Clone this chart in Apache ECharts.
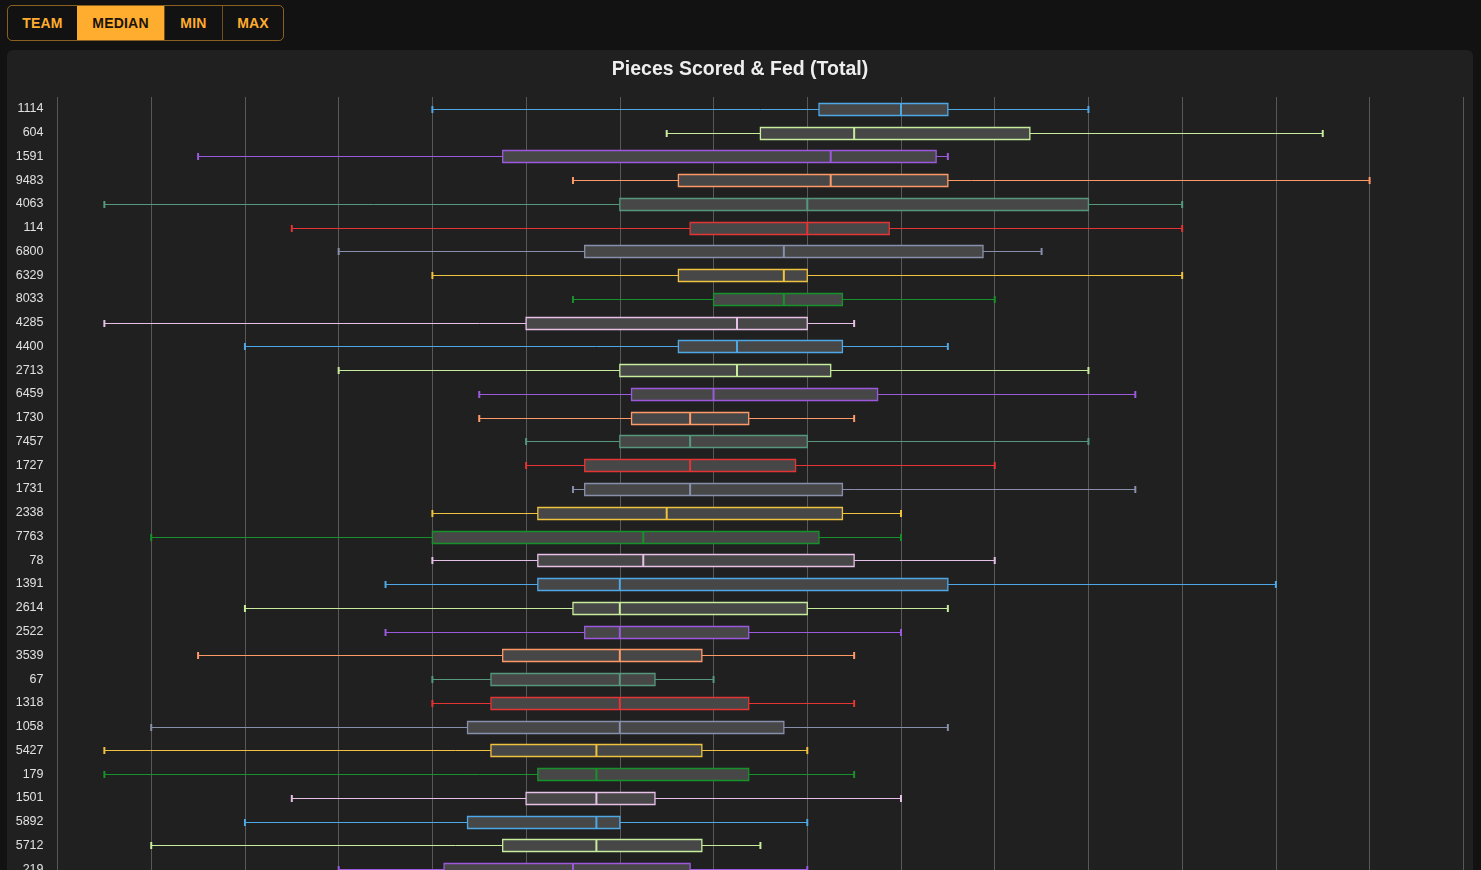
<!DOCTYPE html>
<html>
<head>
<meta charset="utf-8">
<script src="https://cdn.jsdelivr.net/npm/echarts@6/dist/echarts.min.js"></script>
<style>
  html, body { margin:0; padding:0; background:#121212; overflow:hidden; width:1481px; height:870px; }
  .btns { position:absolute; left:7px; top:5px; height:36px; box-sizing:border-box; display:flex;
          border:1px solid rgba(255,173,46,0.5); border-radius:5px; overflow:hidden; }
  .btns button { box-sizing:border-box; height:100%; background:transparent; border:none; margin:0; padding:0;
          color:#ffad2e; font:700 14px 'Liberation Sans', Arial, sans-serif; letter-spacing:0.2px; }
  .btns button.sep { border-left:1px solid rgba(255,173,46,0.4); }
  .btns button.active { background:#ffad2e; color:#1b1408; }
  .panel { position:absolute; left:7px; top:50px; width:1466px; height:900px; background:#202020; border-radius:6px; }
  #chart { position:absolute; left:0; top:0; width:1466px; height:900px; }
</style>
</head>
<body>
<div class="btns">
  <button style="width:69px">TEAM</button>
  <button class="active" style="width:87px">MEDIAN</button>
  <button class="sep" style="width:58px">MIN</button>
  <button class="sep" style="width:61px">MAX</button>
</div>
<div class="panel"><div id="chart"></div></div>
<script>
const teams   = ['1114','604','1591','9483','4063','114','6800','6329','8033','4285','4400','2713','6459','1730','7457','1727','1731','2338','7763','78','1391','2614','2522','3539','67','1318','1058','5427','179','1501','5892','5712','219'];
const mins    = [8, 13, 3, 11, 1, 5, 6, 8, 11, 1, 4, 6, 9, 9, 10, 10, 11, 8, 2, 8, 7, 4, 7, 3, 8, 8, 2, 1, 1, 5, 4, 2, 6];
const q1s     = [16.25, 15, 9.5, 13.25, 12, 13.5, 11.25, 13.25, 14, 10, 13.25, 12, 12.25, 12.25, 12, 11.25, 11.25, 10.25, 8, 10.25, 10.25, 11, 11.25, 9.5, 9.25, 9.25, 8.75, 9.25, 10.25, 10, 8.75, 9.5, 8.25];
const medians = [18, 17, 16.5, 16.5, 16, 16, 15.5, 15.5, 15.5, 14.5, 14.5, 14.5, 14, 13.5, 13.5, 13.5, 13.5, 13, 12.5, 12.5, 12, 12, 12, 12, 12, 12, 12, 11.5, 11.5, 11.5, 11.5, 11.5, 11];
const q3s     = [19, 20.75, 18.75, 19, 22, 17.75, 19.75, 16, 16.75, 16, 16.75, 16.5, 17.5, 14.75, 16, 15.75, 16.75, 16.75, 16.25, 17, 19, 16, 14.75, 13.75, 12.75, 14.75, 15.5, 13.75, 14.75, 12.75, 12, 13.75, 13.5];
const maxs    = [22, 27, 19, 28, 24, 24, 21, 24, 20, 17, 19, 22, 23, 17, 22, 20, 23, 18, 18, 20, 26, 19, 18, 17, 14, 17, 19, 16, 17, 18, 16, 15, 16];
const xTicks  = { min: 0, max: 30, interval: 2 };
const palette = ['#4ea8e6','#c6ec9c','#9b5ade','#ff9a68','#56987e','#e43434','#878fab','#efc23f','#17922b','#e6c0e6'];

const seriesData = teams.map((t, k) => [t, mins[k], q1s[k], medians[k], q3s[k], maxs[k]]);

const chart = echarts.init(document.getElementById('chart'), null, { renderer: 'canvas' });
chart.setOption({
  backgroundColor: 'transparent',
  animation: false,
  title: {
    text: 'Pieces Scored & Fed (Total)',
    left: 'center',
    top: 5,
    textStyle: { color: '#eeeeee', fontFamily: 'Liberation Sans', fontWeight: 'bold', fontSize: 19.5 }
  },
  grid: { left: 50.5, right: 8.5, top: 47, height: 784, containLabel: false },
  xAxis: {
    type: 'value',
    min: xTicks.min, max: xTicks.max, interval: xTicks.interval,
    axisLine: { show: false },
    axisTick: { show: false },
    axisLabel: { color: '#cccccc', fontFamily: 'Liberation Sans', fontSize: 12 },
    splitLine: { show: true, lineStyle: { color: '#585858', width: 1 } }
  },
  yAxis: {
    type: 'category',
    data: teams,
    inverse: true,
    axisLine: { show: false },
    axisTick: { show: false },
    splitLine: { show: false },
    axisLabel: { color: '#e0e0e0', fontFamily: 'Liberation Sans', fontSize: 12.5, margin: 14, padding: [2, 0, 0, 0] }
  },
  series: [{
    type: 'custom',
    data: seriesData,
    encode: { y: 0, x: [1, 2, 3, 4, 5] },
    renderItem: function (params, api) {
      const idx = api.value(0);
      const yc = Math.round(api.coord([0, idx])[1]) + 0.5;
      const xMin = api.coord([api.value(1), idx])[0];
      const xQ1  = api.coord([api.value(2), idx])[0];
      const xMed = api.coord([api.value(3), idx])[0];
      const xQ3  = api.coord([api.value(4), idx])[0];
      const xMax = api.coord([api.value(5), idx])[0];
      const color = palette[params.dataIndex % palette.length];
      const h = 12;
      return {
        type: 'group',
        children: [
          { type: 'line', shape: { x1: xMin, y1: yc, x2: xMax, y2: yc }, style: { stroke: color, lineWidth: 1 } },
          { type: 'rect', shape: { x: xMin - 1, y: yc - 3.5, width: 2, height: 7 }, style: { fill: color } },
          { type: 'rect', shape: { x: xMax - 1, y: yc - 3.5, width: 2, height: 7 }, style: { fill: color } },
          { type: 'rect', shape: { x: xQ1, y: yc - h / 2, width: xQ3 - xQ1, height: h }, style: { fill: '#474747', stroke: color, lineWidth: 1.3 } },
          { type: 'line', shape: { x1: xMed, y1: yc - h / 2, x2: xMed, y2: yc + h / 2 }, style: { stroke: color, lineWidth: 2 } }
        ]
      };
    }
  }]
});
</script>
</body>
</html>
